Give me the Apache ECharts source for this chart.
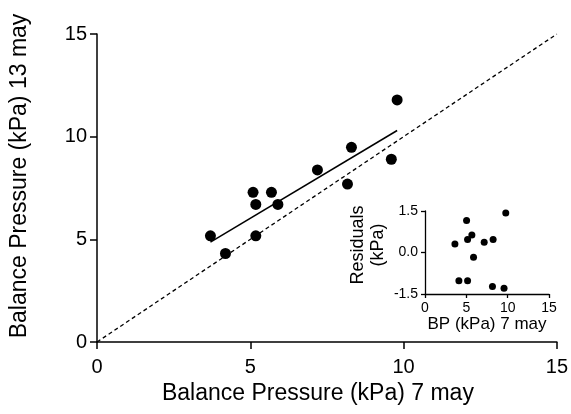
<!DOCTYPE html>
<html>
<head>
<meta charset="utf-8">
<script src="https://cdn.jsdelivr.net/npm/echarts@6/dist/echarts.min.js"></script>
<style>html,body{margin:0;padding:0;background:#fff;}#c{width:571px;height:414px;}</style>
</head>
<body>
<div id="c"></div>
<script>
// Main data: Balance Pressure 7 may (x) vs 13 may (y)
const bp7 = [3.70, 4.19, 5.09, 5.18, 5.18, 5.69, 5.90, 7.19, 8.17, 8.30, 9.60, 9.79];
const bp13 = [5.17, 4.31, 7.29, 6.70, 5.17, 7.29, 6.70, 8.38, 7.69, 9.48, 8.90, 11.79];
// Regression line endpoints
const fitX = [3.7, 9.79];
const fitY = [4.86, 10.30];
// Line of identity
const idX = [0, 15];
const idY = [0, 15];
// Inset residuals
const resX = [3.62, 4.10, 5.03, 5.15, 5.15, 5.67, 5.87, 7.16, 8.24, 8.16, 9.56, 9.77];
const resY = [0.31, -1.02, 1.16, 0.47, -1.02, 0.63, -0.17, 0.37, 0.47, -1.23, -1.29, 1.43];

const zip = (a, b) => a.map((v, i) => [v, b[i]]);
const font = 'Liberation Sans, Arial, sans-serif';
const axisCommon = {
  axisLine: { show: true, onZero: false, lineStyle: { color: '#000', width: 1.5 } },
  axisTick: { show: true, inside: false, length: 7, lineStyle: { color: '#000', width: 1.5 } },
  splitLine: { show: false },
  axisLabel: { color: '#000', fontFamily: font, fontSize: 20, margin: 10 },
  nameLocation: 'middle'
};
const insetAxis = {
  axisLine: { show: true, onZero: false, lineStyle: { color: '#000', width: 1.3 } },
  axisTick: { show: true, inside: false, length: 4, lineStyle: { color: '#000', width: 1.3 } },
  splitLine: { show: false },
  axisLabel: { color: '#000', fontFamily: font, fontSize: 14, margin: 7 },
  nameLocation: 'middle'
};

const chart = echarts.init(document.getElementById('c'), null, { renderer: 'canvas' });
chart.setOption({
  animation: false,
  backgroundColor: '#fff',
  grid: [
    { left: 96, top: 34, right: 13, bottom: 72 },
    { left: 425, top: 211, width: 124, height: 83 }
  ],
  xAxis: [
    Object.assign({}, axisCommon, {
      gridIndex: 0, type: 'value', min: 0, max: 15, interval: 5,
      axisLabel: Object.assign({}, axisCommon.axisLabel, { margin: 15 }),
      name: 'Balance Pressure (kPa) 7 may', nameGap: 40,
      nameTextStyle: { color: '#000', fontFamily: font, fontSize: 23, padding: [0, 18, 0, 0] }
    }),
    Object.assign({}, insetAxis, {
      gridIndex: 1, type: 'value', min: 0, max: 15, interval: 5,
      name: 'BP (kPa) 7 may', nameGap: 20,
      nameTextStyle: { color: '#000', fontFamily: font, fontSize: 17 }
    })
  ],
  yAxis: [
    Object.assign({}, axisCommon, {
      gridIndex: 0, type: 'value', min: 0, max: 15, interval: 5,
      name: 'Balance Pressure (kPa) 13 may', nameGap: 66,
      nameTextStyle: { color: '#000', fontFamily: font, fontSize: 23, padding: [0, 0, 0, 24] }
    }),
    Object.assign({}, insetAxis, {
      gridIndex: 1, type: 'value', min: -1.5, max: 1.5, interval: 1.5,
      name: 'Residuals\n(kPa)', nameGap: 37,
      axisLabel: Object.assign({}, insetAxis.axisLabel, {
        formatter: v => v.toFixed(1)
      }),
      nameTextStyle: { color: '#000', fontFamily: font, fontSize: 18, lineHeight: 20, padding: [0, 0, 0, 15] }
    })
  ],
  series: [
    {
      type: 'line', xAxisIndex: 0, yAxisIndex: 0, data: zip(idX, idY),
      symbol: 'none', lineStyle: { color: '#000', width: 1.3, type: [4, 3] }, silent: true
    },
    {
      type: 'line', xAxisIndex: 0, yAxisIndex: 0, data: zip(fitX, fitY),
      symbol: 'none', lineStyle: { color: '#000', width: 1.5 }, silent: true
    },
    {
      type: 'scatter', xAxisIndex: 0, yAxisIndex: 0, data: zip(bp7, bp13),
      symbol: 'circle', symbolSize: 11, itemStyle: { color: '#000', opacity: 1 }
    },
    {
      type: 'scatter', xAxisIndex: 1, yAxisIndex: 1, data: zip(resX, resY),
      symbol: 'circle', symbolSize: 7, itemStyle: { color: '#000', opacity: 1 }
    }
  ]
});
</script>
</body>
</html>
